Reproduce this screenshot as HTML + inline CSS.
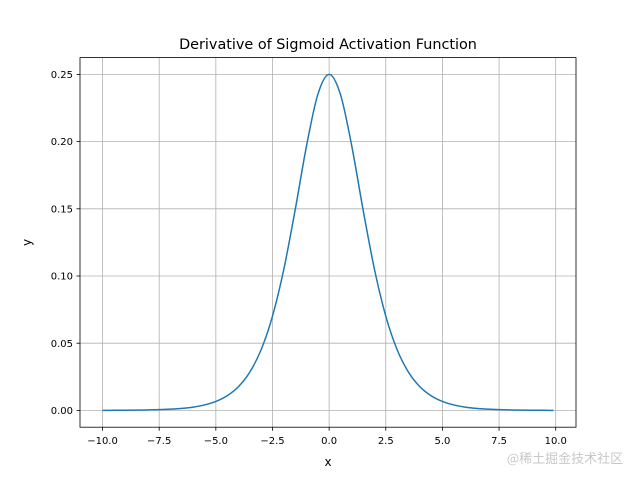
<!DOCTYPE html>
<html><head><meta charset="utf-8"><style>
html,body{margin:0;padding:0;background:#fff}
svg{display:block;font-family:"DejaVu Sans","Liberation Sans",sans-serif}
</style></head><body>
<svg id="chart" width="640" height="480" viewBox="0 0 640 480">
<rect width="640" height="480" fill="#fff"/>
<text x="328" y="49" font-size="14.4" text-anchor="middle">Derivative of Sigmoid Activation Function</text>
<g id="grid"></g>
<g id="axes"></g>
<path id="curve" fill="none" stroke="#1f77b4" stroke-width="1.5"/>
<rect x="80" y="57.6" width="496" height="369.6" fill="none" stroke="#000" stroke-width="0.8"/>
<text x="328" y="466" font-size="12" text-anchor="middle">x</text>
<text transform="translate(31,242.4) rotate(-90)" font-size="12" text-anchor="middle">y</text>
<text x="565" y="463" font-size="13" text-anchor="middle" fill="#c8c8c8" font-family="'Noto Sans CJK SC',sans-serif">@稀土掘金技术社区</text>
</svg>
<script>
const xTicks=[-10,-7.5,-5,-2.5,0,2.5,5,7.5,10];
const xTickLabels=["−10.0","−7.5","−5.0","−2.5","0.0","2.5","5.0","7.5","10.0"];
const yTicks=[0,0.05,0.10,0.15,0.20,0.25];
const yTickLabels=["0.00","0.05","0.10","0.15","0.20","0.25"];
const xs=[-10,-9.5,-9,-8.5,-8,-7.5,-7,-6.5,-6,-5.5,-5,-4.5,-4,-3.5,-3,-2.5,-2,-1.5,-1,-0.5,0,0.5,1,1.5,2,2.5,3,3.5,4,4.5,5,5.5,6,6.5,7,7.5,8,8.5,9,9.5,9.9];
const ys=[0.000045,0.00007,0.00012,0.0002,0.00034,0.00055,0.00091,0.0015,0.00247,0.00406,0.00665,0.0109,0.0177,0.0285,0.0452,0.0701,0.105,0.1491,0.1966,0.235,0.25,0.235,0.1966,0.1491,0.105,0.0701,0.0452,0.0285,0.0177,0.0109,0.00665,0.00406,0.00247,0.0015,0.00091,0.00055,0.00034,0.0002,0.00012,0.00007,0.00005];
const X0=80,X1=576,Y0=427.2,Y1=57.6,xmin=-10.995,xmax=10.895,ymin=-0.0125,ymax=0.2625;
const sx=v=>X0+(v-xmin)/(xmax-xmin)*(X1-X0);
const sy=v=>Y0-(v-ymin)/(ymax-ymin)*(Y0-Y1);
const NS="http://www.w3.org/2000/svg";
const grid=document.getElementById('grid'),axes=document.getElementById('axes');
function mk(t,a,p){const e=document.createElementNS(NS,t);for(const k in a)e.setAttribute(k,a[k]);p.appendChild(e);return e;}
xTicks.forEach((v,i)=>{const x=sx(v);
 const g=mk('line',{x1:x,x2:x,y1:Y1,y2:Y0,stroke:'#b0b0b0','stroke-width':0.8},grid);
 
 
 const t=mk('line',{x1:x,x2:x,y1:Y0,y2:Y0+3.5,stroke:'#000','stroke-width':0.8},axes);
 
 
 const l=mk('text',{x:x,y:Y0+17,'font-size':10,'text-anchor':'middle'},axes);l.textContent=xTickLabels[i];
 
 
});
yTicks.forEach((v,i)=>{const y=sy(v);
 const g=mk('line',{x1:X0,x2:X1,y1:y,y2:y,stroke:'#b0b0b0','stroke-width':0.8},grid);
 
 
 const t=mk('line',{x1:X0-3.5,x2:X0,y1:y,y2:y,stroke:'#000','stroke-width':0.8},axes);
 
 
 const l=mk('text',{x:X0-7,y:y+3.6,'font-size':10,'text-anchor':'end'},axes);l.textContent=yTickLabels[i];
 
 
});
const P=xs.map((v,i)=>[sx(v),sy(ys[i])]);
let d='M'+P[0][0]+','+P[0][1];
for(let i=0;i<P.length-1;i++){const p0=P[Math.max(0,i-1)],p1=P[i],p2=P[i+1],p3=P[Math.min(P.length-1,i+2)];
 const c1=[p1[0]+(p2[0]-p0[0])/6,p1[1]+(p2[1]-p0[1])/6],c2=[p2[0]-(p3[0]-p1[0])/6,p2[1]-(p3[1]-p1[1])/6];
 d+=' C'+c1+' '+c2+' '+p2;}
document.getElementById('curve').setAttribute('d',d);
</script>
</body></html>
